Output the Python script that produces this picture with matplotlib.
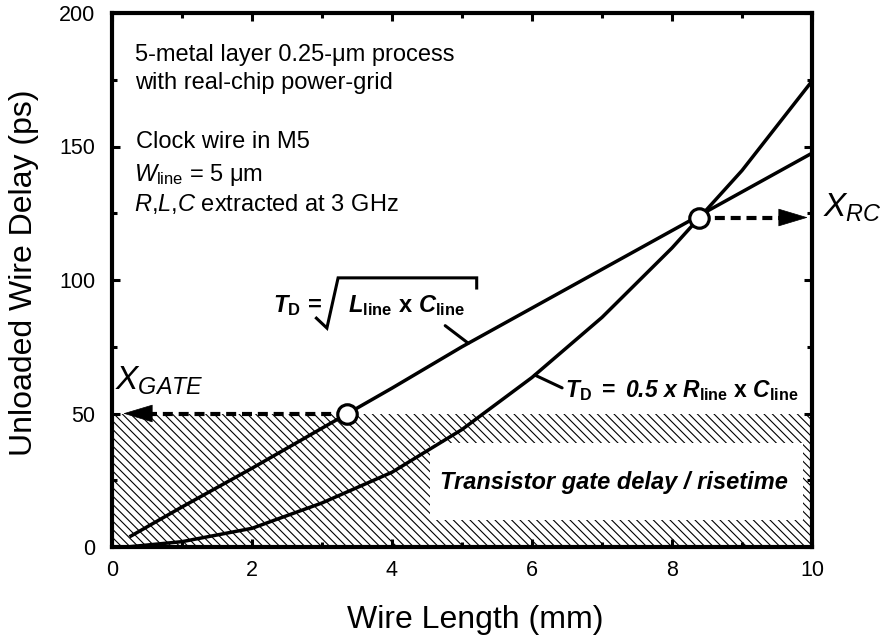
import matplotlib
matplotlib.use("Agg")
import matplotlib.pyplot as plt
import numpy as np

plt.rcParams['font.family'] = 'Liberation Sans'
plt.rcParams['mathtext.fontset'] = 'custom'
plt.rcParams['mathtext.rm'] = 'Liberation Sans'
plt.rcParams['mathtext.it'] = 'Liberation Sans:italic'
plt.rcParams['mathtext.bf'] = 'Liberation Sans:bold'
plt.rcParams['mathtext.bfit'] = 'Liberation Sans:italic:bold'
plt.rcParams['hatch.linewidth'] = 0.8

# wire length (mm) vs unloaded delay (ps)
length_lc = [0.25, 1, 2, 3, 4, 5, 6, 7, 8, 9, 10]
delay_lc = [3.8, 15, 29.5, 44.5, 59.5, 75, 89.5, 104, 118.5, 133, 147.5]   # sqrt(L*C)
length_rc = [0.25, 1, 2, 3, 4, 5, 6, 7, 8, 9, 10]
delay_rc = [0.1, 2.0, 7, 16.5, 28, 44, 63.5, 86, 112, 141, 174.5]          # 0.5*R*C

gate_delay = 50            # transistor gate delay / risetime (ps)
x_gate = [3.36]
x_rc = [8.39]
delay_at_xrc = [123.4]

fig = plt.figure(figsize=(8.85, 6.39), dpi=100)
ax = fig.add_axes([112/885, 1 - 547/639, 700/885, 534/639])

# shaded gate-delay band with a blank slot for its caption
ax.fill_between([0, 10], 0, gate_delay, facecolor='none', edgecolor='k',
                hatch='\\\\\\\\', linewidth=0, zorder=1)
ax.add_patch(plt.Rectangle((4.54, 10.1), 9.87 - 4.54, 39 - 10.1,
                           facecolor='white', edgecolor='none', zorder=2))
ax.text(7.17, 24, 'Transistor gate delay / risetime', fontsize=17,
        fontweight='bold', style='italic', ha='center', va='center', zorder=3)

ax.plot(length_lc, delay_lc, color='k', lw=2.5, zorder=4, solid_capstyle='butt')
ax.plot(length_rc, delay_rc, color='k', lw=2.5, zorder=4, solid_capstyle='butt')

# crossover arrows: dashed shaft + solid head
dash = (0, (2.4, 1.4))
head = dict(arrowstyle='-|>,head_length=2.0,head_width=0.6', lw=0.5,
            color='k', shrinkA=0, shrinkB=0)
gate_tip, rc_tip, head_len = 0.16, 9.94, 0.37
ax.plot([x_gate[0], gate_tip + head_len], [gate_delay] * 2, color='k', lw=3,
        linestyle=dash, zorder=5)
ax.annotate('', xy=(gate_tip, gate_delay), xytext=(gate_tip + head_len, gate_delay),
            arrowprops=head, zorder=5)
ax.plot([x_rc[0], rc_tip - head_len], delay_at_xrc * 2, color='k', lw=3,
        linestyle=dash, zorder=5)
ax.annotate('', xy=(rc_tip, delay_at_xrc[0]), xytext=(rc_tip - head_len, delay_at_xrc[0]),
            arrowprops=head, zorder=5)
ax.plot(x_gate + x_rc, [gate_delay] + delay_at_xrc, 'o', ms=14, mew=2.3,
        mfc='white', mec='k', zorder=6)

ax.text(0.04, 58.9, r'$X_{GATE}$', fontsize=24, va='baseline')
ax.text(10.16, 123.7, r'$X_{RC}$', fontsize=24, va='baseline', clip_on=False)

# process notes
notes = dict(fontsize=17, va='baseline')
ax.text(0.33, 181.9, '5-metal layer 0.25-μm process', **notes)
ax.text(0.33, 171.4, 'with real-chip power-grid', **notes)
ax.text(0.35, 149.6, 'Clock wire in M5', **notes)
ax.text(0.31, 137.0, r'$W_{\mathrm{line}}$ = 5 μm', **notes)
ax.text(0.31, 125.7, r'$R$,$L$,$C$ extracted at 3 GHz', **notes)

# sqrt(L*C) label with a drawn radical
ax.text(2.30, 88.1, r'$\mathbfit{T}_{\mathbf{D}}\,\mathbf{=}$', fontsize=17, va='baseline')
ax.plot([2.92, 3.07, 3.23, 5.21, 5.21], [85.7, 82.0, 100.8, 100.8, 97.0],
        color='k', lw=2.2, solid_joinstyle='miter')
ax.text(3.37, 88.1, r'$\mathbfit{L}_{\mathbf{line}}\ \mathbf{x}\ \mathbfit{C}_{\mathbf{line}}$',
        fontsize=17, va='baseline')
ax.annotate('', xy=(5.09, np.interp(5.09, length_lc, delay_lc)), xytext=(4.76, 82.9),
            arrowprops=dict(arrowstyle='-', lw=2.2, color='k', shrinkA=0, shrinkB=0))

ax.text(6.47, 56.3, r'$\mathbfit{T}_{\mathbf{D}}\ \mathbf{=}\ \mathbfit{0.5\ x\ R}_{\mathbf{line}}'
        r'\ \mathbf{x}\ \mathbfit{C}_{\mathbf{line}}$', fontsize=16.5, va='baseline')
ax.annotate('', xy=(6.04, np.interp(6.04, length_rc, delay_rc)), xytext=(6.43, 59.6),
            arrowprops=dict(arrowstyle='-', lw=2.2, color='k', shrinkA=0, shrinkB=0))

ax.set_xlim(0, 10)
ax.set_ylim(0, 200)
ax.set_xticks(np.arange(0, 11, 2))
ax.set_xticks(np.arange(1, 10, 2), minor=True)
ax.set_yticks(np.arange(0, 201, 50))
ax.set_yticks(np.arange(25, 200, 50), minor=True)
ax.tick_params(which='both', direction='in', top=True, right=True, width=2.2,
               labelsize=15.5)
ax.tick_params(which='major', length=6)
ax.tick_params(which='minor', length=3.5)
ax.tick_params(axis='x', pad=9)
ax.tick_params(axis='y', pad=12)
for s in ax.spines.values():
    s.set_linewidth(3)

ax.set_xlabel('Wire Length (mm)', fontsize=23)
ax.xaxis.set_label_coords(0.519, -0.108, transform=ax.transAxes)
ax.set_ylabel('Unloaded Wire Delay (ps)', fontsize=23)
ax.yaxis.set_label_coords(-0.104, 0.513, transform=ax.transAxes)

fig.savefig('out.png', dpi=100)
